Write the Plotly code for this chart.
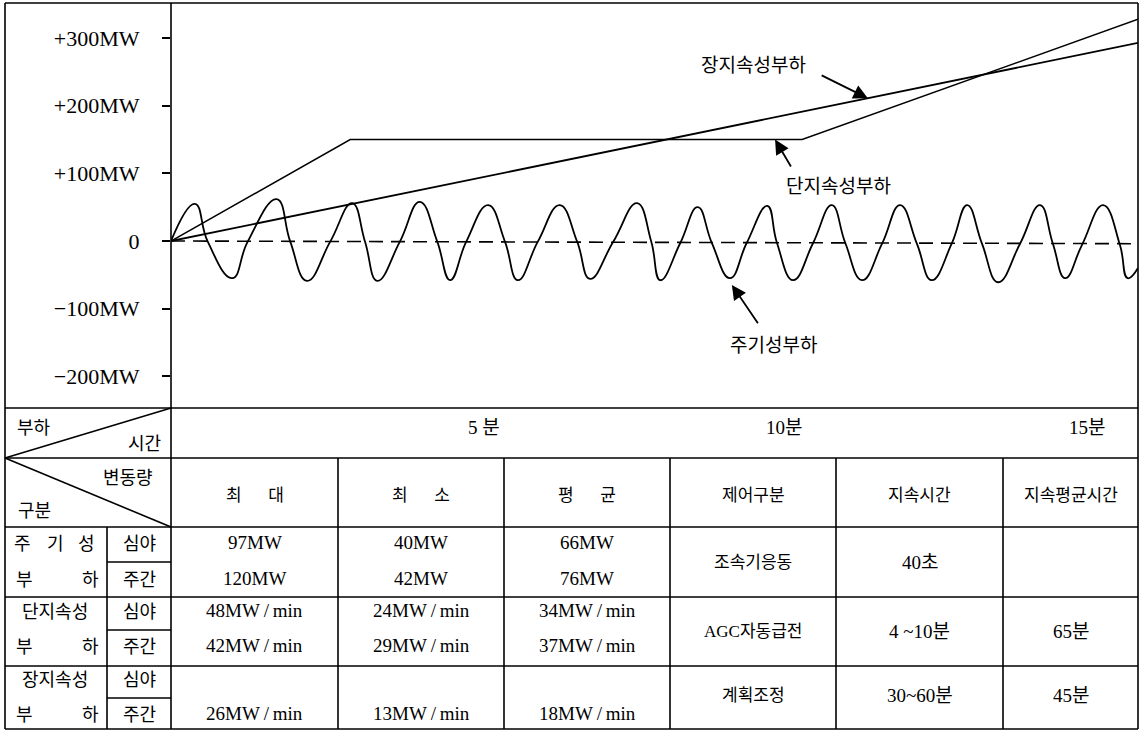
import plotly.graph_objects as go

W, H = 1144, 731

# ---------------- data ----------------
wave_t = [0, 0.37, 0.57, 0.95, 1.19, 1.64, 1.85, 2.11, 2.47, 2.81, 3.01, 3.20, 3.55, 3.86,
          4.13, 4.33, 4.58, 4.92, 5.18, 5.38, 5.69, 6.03, 6.30, 6.50, 6.86, 7.23, 7.45,
          7.59, 7.90, 8.17, 8.39, 8.67, 8.93, 9.25, 9.40, 9.65, 9.96, 10.25, 10.46, 10.72,
          11.03, 11.31, 11.57, 11.80, 12.11, 12.35, 12.58, 12.83, 13.17, 13.48, 13.68,
          13.87, 14.13, 14.46, 14.72, 14.84, 15.0]
wave_mw = [0, 55, -1, -55, -1, 62, -1, -59, -1, 56, -1, -59, -1, 58,
           -1, -58, -1, 53, -1, -58, -1, 53, -1, -56, -1, 56, -1,
           -58, -3, 50, -3, -55, -3, 52, -3, -58, -3, 53, -3, -58,
           -4, 53, -4, -58, -4, 53, -4, -61, -4, 53, -4,
           -55, -6, 53, -6, -55, -40]

short_t = [0, 2.78, 9.79, 15]
short_mw = [0, 150, 150, 328]
long_t = [0, 15]
long_mw = [0, 293]
base_t = [0, 15]
base_mw = [0, -4]

y_tick_vals = [300, 200, 100, 0, -100, -200]
y_tick_text = ["+300MW", "+200MW", "+100MW", "0", "−100MW", "−200MW"]
time_labels = ["5 분", "10분", "15분"]

col_headers = ["최\u00a0\u00a0\u00a0\u00a0\u00a0\u00a0\u00a0대",
               "최\u00a0\u00a0\u00a0\u00a0\u00a0\u00a0\u00a0소",
               "평\u00a0\u00a0\u00a0\u00a0\u00a0\u00a0\u00a0균",
               "제어구분", "지속시간", "지속평균시간"]
row_groups = ["주 기 성", "단지속성", "장지속성"]
sub_rows = ["심야", "주간"]
max_vals = ["97MW", "120MW", "48MW\u2009/\u2009min", "42MW\u2009/\u2009min", "", "26MW\u2009/\u2009min"]
min_vals = ["40MW", "42MW", "24MW\u2009/\u2009min", "29MW\u2009/\u2009min", "", "13MW\u2009/\u2009min"]
avg_vals = ["66MW", "76MW", "34MW\u2009/\u2009min", "37MW\u2009/\u2009min", "", "18MW\u2009/\u2009min"]
control = ["조속기응동", "AGC자동급전", "계획조정"]
duration = ["40초", "4 ~10분", "30~60분"]
avg_duration = ["", "65분", "45분"]

# ---------------- layout helpers ----------------
FONT = "Liberation Serif, Noto Sans CJK KR, serif"
KFONT = "Noto Sans CJK KR, sans-serif"


def PX(x):
    return x / W


def PY(y):
    return 1 - y / H


X0, X1 = 171, 1138
Y0, Y1 = 3, 408

fig = go.Figure()
fig.add_trace(go.Scatter(x=wave_t, y=wave_mw, mode="lines",
                         line=dict(color="black", width=1.8, shape="spline", smoothing=1.3),
                         hoverinfo="skip", showlegend=False))
fig.add_trace(go.Scatter(x=short_t, y=short_mw, mode="lines", line=dict(color="black", width=1.5),
                         hoverinfo="skip", showlegend=False))
fig.add_trace(go.Scatter(x=long_t, y=long_mw, mode="lines", line=dict(color="black", width=1.8),
                         hoverinfo="skip", showlegend=False))
fig.add_trace(go.Scatter(x=base_t, y=base_mw, mode="lines",
                         line=dict(color="black", width=1.6, dash="14px,8px"),
                         hoverinfo="skip", showlegend=False))

shapes = []


def seg(x0, y0, x1, y1, w=1.6):
    shapes.append(dict(type="line", xref="paper", yref="paper", x0=PX(x0), x1=PX(x1),
                       y0=PY(y0), y1=PY(y1), line=dict(color="black", width=w)))


def hline(x0, x1, y, w=1.6):
    seg(x0, y, x1, y, w)


def vline(x, y0, y1, w=1.6):
    seg(x, y0, x, y1, w)


# outer frame and plot frame
LX, RX, TY, BY = 5, 1138, 3, 729
hline(LX, RX, TY)
hline(LX, RX, BY)
vline(LX, TY, BY)
vline(RX, TY, BY)
vline(X0, TY, BY)

# table rows
row_lines = [408, 458, 527, 597, 666]
for y in row_lines:
    hline(LX, RX, y)
col_lines = [338, 504, 670, 836, 1003]
for x in col_lines:
    vline(x, 458, BY)
# sub column
vline(107, 527, BY)
for y in [562, 630, 698]:
    hline(107, X0, y)
# diagonals
seg(LX, 458, X0, 408)
seg(LX, 458, X0, 527)

ann = []


def text(x, y, s, size=18, font=FONT, xanchor="center"):
    ann.append(dict(xref="paper", yref="paper", x=PX(x), y=PY(y), text=s, showarrow=False,
                    xanchor=xanchor, yanchor="middle", font=dict(family=font, size=size, color="black")))


# time labels
for s, x in zip(time_labels, [484, 784, 1087]):
    text(x, 427, s, size=19)

# corner header texts
text(34, 426, "부하", size=18, font=KFONT)
text(144, 442, "시간", size=18, font=KFONT)
text(128, 476, "변동량", size=18, font=KFONT)
text(34, 509, "구분", size=18, font=KFONT)

# column headers
centers = [(a + b) / 2 for a, b in zip([X0] + col_lines, col_lines + [RX])]
for s, cx in zip(col_headers, centers):
    text(cx, 493, s, size=17, font=KFONT)

# row labels
sub_y = [542, 578, 610, 645, 678, 713]
group_y = [562, 631, 695]
for g, name in enumerate(row_groups):
    yt, yb = sub_y[2 * g], sub_y[2 * g + 1]
    if g == 0:
        for ch, x in zip(name.split(" "), [22, 55, 86]):
            text(x, yt, ch, size=18, font=KFONT)
    else:
        text(55, yt, name, size=18, font=KFONT)
    text(24, yb, "부", size=18, font=KFONT)
    text(90, yb, "하", size=18, font=KFONT)
    text(139, yt, sub_rows[0], size=18, font=KFONT)
    text(139, yb, sub_rows[1], size=18, font=KFONT)

for vals, cx in zip([max_vals, min_vals, avg_vals], centers[:3]):
    for v, y in zip(vals, sub_y):
        if v:
            text(cx, y, v, size=19)
for g in range(3):
    text(centers[3], group_y[g], control[g], size=17)
    text(centers[4], group_y[g], duration[g], size=19)
    if avg_duration[g]:
        text(centers[5], group_y[g], avg_duration[g], size=19)

# chart labels and arrows (data coordinates)
labels = [("장지속성부하", 9.03, 262), ("단지속성부하", 10.35, 83), ("주기성부하", 9.34, -152)]
for s, xt, yv in labels:
    ann.append(dict(xref="x", yref="y", x=xt, y=yv, text=s, showarrow=False,
                    font=dict(family=KFONT, size=19, color="black")))
arrows = [((10.07, 246), (10.81, 211)), ((9.63, 108), (9.37, 150)), ((9.12, -124), (8.70, -65))]
for (tx, ty), (hx, hy) in arrows:
    ann.append(dict(xref="x", yref="y", x=hx, y=hy, ax=tx, ay=ty, axref="x", ayref="y",
                    text="", showarrow=True, arrowhead=2, arrowsize=1.6, arrowwidth=1.8,
                    arrowcolor="black", standoff=0, startstandoff=0))

fig.update_layout(
    width=W, height=H, margin=dict(l=0, r=0, t=0, b=0),
    paper_bgcolor="white", plot_bgcolor="white",
    shapes=shapes, annotations=ann, showlegend=False,
    xaxis=dict(domain=[PX(X0), PX(X1)], range=[0, 15], showgrid=False, zeroline=False,
               showticklabels=False, ticks="", showline=False, fixedrange=True),
    yaxis=dict(domain=[PY(Y1), PY(Y0)], range=[-247, 352], showgrid=False, zeroline=False,
               tickmode="array", tickvals=y_tick_vals, ticktext=y_tick_text,
               ticks="outside", ticklen=8, tickwidth=1.5, tickcolor="black",
               ticklabelstandoff=18, showline=False,
               tickfont=dict(family=FONT, size=22, color="black"), fixedrange=True),
)

fig.write_html("out.html", config={"displayModeBar": False},
               post_script="document.body.style.margin='0';document.body.style.overflow='hidden';")
